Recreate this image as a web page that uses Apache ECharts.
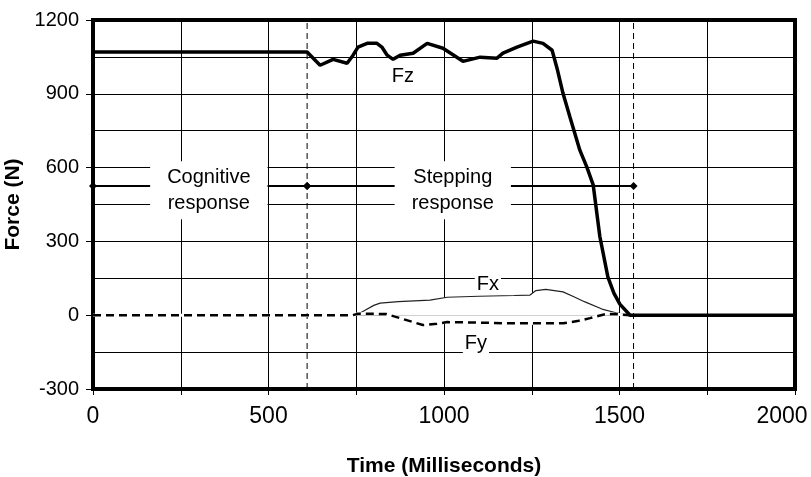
<!DOCTYPE html>
<html>
<head>
<meta charset="utf-8">
<script src="https://cdn.jsdelivr.net/npm/echarts@6/dist/echarts.min.js"></script>
<style>
html,body{margin:0;padding:0;background:#fff;}
#chart{width:811px;height:477px;}
</style>
</head>
<body>
<div id="chart"></div>
<script>
// ---- data ----
var fzTime  = [0, 610, 647, 684, 724, 741, 755, 781, 809, 823, 838, 855, 875, 912, 952, 997, 1054, 1103, 1151, 1168, 1208, 1254, 1282, 1308, 1322, 1339, 1359, 1387, 1407, 1425, 1444, 1467, 1484, 1501, 1530, 2000];
var fzForce = [1070, 1070, 1016, 1040, 1024, 1057, 1090, 1105, 1105, 1090, 1057, 1040, 1057, 1065, 1105, 1085, 1032, 1049, 1045, 1065, 1090, 1114, 1105, 1077, 1004, 902, 805, 671, 602, 530, 320, 155, 90, 45, 0, 0];

var fxTime  = [735, 760, 775, 800, 818, 870, 960, 1009, 1100, 1200, 1245, 1262, 1290, 1339, 1370, 1400, 1450, 1490, 1530];
var fxForce = [0, 8, 20, 40, 49, 55, 61, 73, 77, 80, 82, 100, 105, 95, 75, 55, 25, 10, 0];

var fyTime  = [0, 740, 755, 835, 875, 940, 980, 1009, 1100, 1180, 1340, 1380, 1416, 1464, 1500, 1530];
var fyForce = [0, 0, 6, 5, -12, -40, -35, -28, -30, -33, -33, -24, -12, 6, 3, 0];

var phaseTime  = [0, 610, 1540];     // cognitive start, stepping start, stepping end
var phaseLevel = 525;
var phaseNames = ['Cognitive\nresponse', 'Stepping\nresponse'];
var phaseLabelAt = [[330, 508], [1025, 508]];

var curveNames = ['Fz', 'Fx', 'Fy'];
var curveLabelAt = [[883, 971], [1125, 126], [1091, -115]];

var xTicks = [0, 500, 1000, 1500, 2000];
var yTicks = [-300, 0, 300, 600, 900, 1200];

function pairs(t, v) { return t.map(function (x, i) { return [x, v[i]]; }); }

var FONT = 'Liberation Sans, Arial, sans-serif';
var chart = echarts.init(document.getElementById('chart'), null, {renderer: 'canvas'});

var txt = {color: '#000', fontFamily: FONT, fontSize: 20, fontWeight: 'normal',
           textBorderWidth: 0, textShadowBlur: 0, opacity: 1};

var series = [
  // vertical dashed phase boundaries
  {type: 'line', data: [[phaseTime[1], -300], [phaseTime[1], 1200]], showSymbol: false, z: 2,
   lineStyle: {color: '#000', width: 1, type: [6, 4]}},
  {type: 'line', data: [[phaseTime[2], -300], [phaseTime[2], 1200]], showSymbol: false, z: 2,
   lineStyle: {color: '#000', width: 1, type: [6, 4]}},
  // Fx (thin) with white fill down to zero
  {name: 'Fx', type: 'line', data: pairs(fxTime, fxForce), showSymbol: false, z: 3,
   lineStyle: {color: '#222', width: 1.2}, areaStyle: {color: '#fff', opacity: 1}},
  // white underlay for Fy (gaps between dashes are white)
  {type: 'line', data: pairs(fyTime, fyForce), showSymbol: false, z: 3,
   lineStyle: {color: '#fff', width: 3}, areaStyle: {color: '#fff', opacity: 1}},
  // Fy (dashed)
  {name: 'Fy', type: 'line', data: pairs(fyTime, fyForce), showSymbol: false, z: 3,
   lineStyle: {color: '#000', width: 2.5, type: [8, 5]}},
  // Fz
  {name: 'Fz', type: 'line', data: pairs(fzTime, fzForce), showSymbol: false, z: 4,
   lineStyle: {color: '#000', width: 3.5}},
  // phase intervals
  {type: 'line', data: [[phaseTime[0], phaseLevel], [phaseTime[1], phaseLevel]], z: 5,
   symbol: 'diamond', symbolSize: 8, itemStyle: {color: '#000'}, lineStyle: {color: '#000', width: 2}},
  {type: 'line', data: [[phaseTime[1], phaseLevel], [phaseTime[2], phaseLevel]], z: 5,
   symbol: 'diamond', symbolSize: 8, itemStyle: {color: '#000'}, lineStyle: {color: '#000', width: 2}},
  // phase labels (white boxes)
  {type: 'scatter', symbolSize: 0, z: 6, silent: true,
   itemStyle: {color: '#000', opacity: 1},
   data: phaseLabelAt.map(function (p, i) {
     return {value: p, label: {formatter: phaseNames[i]}};
   }),
   label: Object.assign({show: true, position: 'inside', lineHeight: 26,
           backgroundColor: '#fff', padding: [3, 17], align: 'center'}, txt)},
  // curve labels
  {type: 'scatter', symbolSize: 0, z: 6, silent: true,
   itemStyle: {color: '#000', opacity: 1},
   data: curveLabelAt.map(function (p, i) {
     return {value: p, label: {formatter: curveNames[i], backgroundColor: i === 0 ? 'transparent' : '#fff'}};
   }),
   label: Object.assign({show: true, position: 'inside', padding: [0, 2]}, txt)}
];

chart.setOption({
  animation: false,
  backgroundColor: '#fff',
  grid: {left: 93, right: 16, top: 20, bottom: 88, show: true, borderColor: '#000', borderWidth: 4,
         backgroundColor: 'transparent', containLabel: false, outerBoundsMode: 'none'},
  xAxis: {
    type: 'value', min: 0, max: 2000, interval: 250,
    name: 'Time (Milliseconds)', nameLocation: 'middle', nameGap: 67,
    nameTextStyle: {fontFamily: FONT, fontWeight: 'bold', fontSize: 21, color: '#000'},
    axisLine: {show: true, onZero: false, lineStyle: {color: '#000', width: 4}},
    axisTick: {show: true, length: 6, lineStyle: {color: '#000', width: 1}},
    splitLine: {show: true, lineStyle: {color: '#000', width: 1}},
    axisLabel: {
      margin: 16, color: '#000', fontFamily: FONT, fontSize: 23,
      formatter: function (v) {
        if (xTicks.indexOf(v) < 0) return '';
        if (v === xTicks[xTicks.length - 1]) return '{r|' + v + '}';
        return String(v);
      },
      rich: {r: {fontFamily: FONT, fontSize: 23, color: '#000', padding: [0, 26, 0, 0]}}
    }
  },
  yAxis: {
    type: 'value', min: -300, max: 1200, interval: 300,
    name: 'Force (N)', nameLocation: 'middle', nameGap: 60,
    nameTextStyle: {fontFamily: FONT, fontWeight: 'bold', fontSize: 21, color: '#000'},
    axisLine: {show: true, onZero: false, lineStyle: {color: '#000', width: 4}},
    axisTick: {show: true, length: 7, lineStyle: {color: '#000', width: 1}},
    splitLine: {show: true, lineStyle: {color: '#000', width: 1}},
    minorTick: {show: false, splitNumber: 2},
    minorSplitLine: {show: true, lineStyle: {color: '#000', width: 1}},
    axisLabel: {
      margin: 14, color: '#000', fontFamily: FONT, fontSize: 20,
      formatter: function (v) { return yTicks.indexOf(v) >= 0 ? String(v) : ''; }
    }
  },
  series: series
});
</script>
</body>
</html>
